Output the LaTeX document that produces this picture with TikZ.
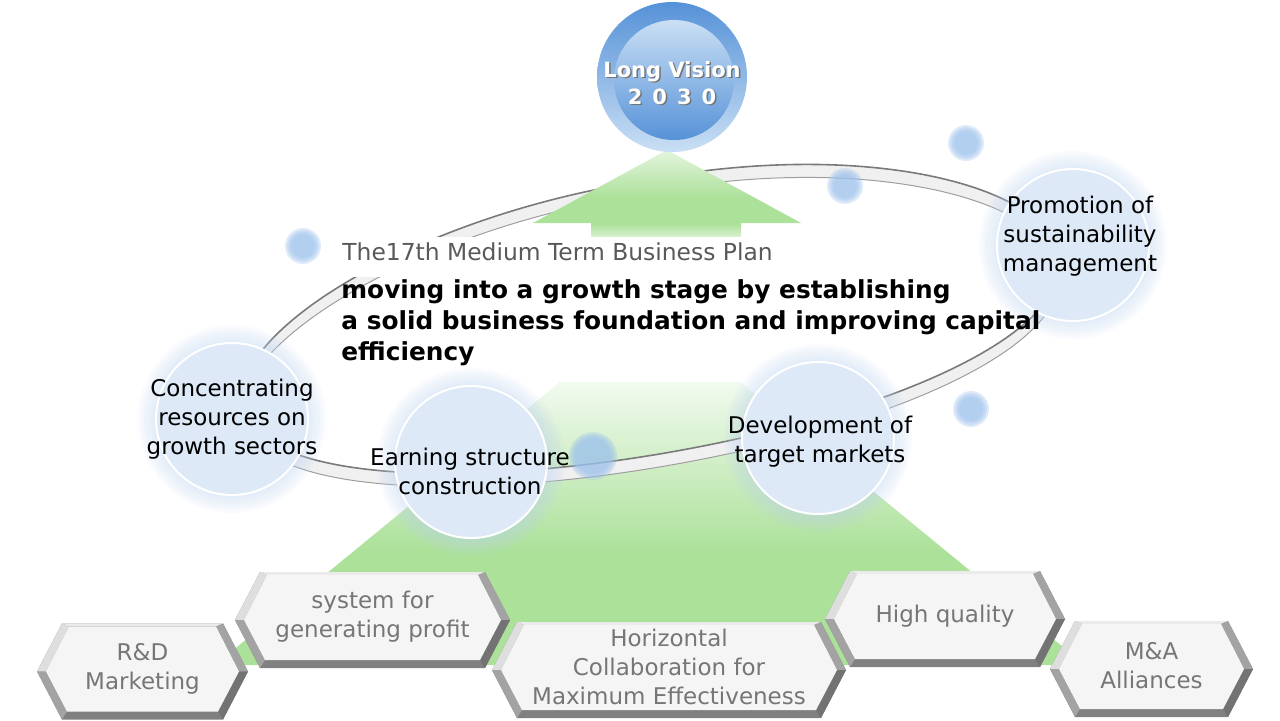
\documentclass[tikz,border=0pt]{standalone}
\usepackage{fontspec}
\setmainfont{DejaVu Sans}
\definecolor{leaf}{RGB}{172,225,154}
\definecolor{leafpale}{RGB}{228,245,222}
\definecolor{discfill}{RGB}{221,233,246}
\definecolor{halocol}{RGB}{190,212,240}
\definecolor{dotblue}{RGB}{158,194,236}
\definecolor{visblue}{RGB}{86,146,216}
\definecolor{vispale}{RGB}{202,223,244}
\definecolor{plangray}{RGB}{89,89,89}
\definecolor{hexgray}{RGB}{118,118,118}
\pgfdeclareverticalshading{toparrow}{100bp}{color(0bp)=(white); color(25bp)=(leafpale!40!white); color(36bp)=(leaf); color(50bp)=(leaf); color(75bp)=(leafpale); color(100bp)=(leafpale)}
\pgfdeclareverticalshading{bigarrow}{100bp}{color(0bp)=(leaf); color(45bp)=(leaf); color(75bp)=(leafpale!50!white); color(100bp)=(white)}
\def\ringup{plot[domain=0:360,samples=120,smooth,variable=\t] ({648+405.7*cos(\t)*(1-0.12*sin(\t))-23.6*sin(\t)},{318-71.5*cos(\t)*(1-0.12*sin(\t))-133.9*sin(\t)-6*(1+sin(\t))*max(cos(\t),0)}) -- cycle}
\def\ringlow{plot[domain=0:360,samples=120,smooth,variable=\t] ({648+405.7*cos(\t)*(1-0.12*sin(\t))-23.6*sin(\t)},{331-71.5*cos(\t)*(1-0.12*sin(\t))-133.9*sin(\t)-6*(1+sin(\t))*max(cos(\t),0)}) -- cycle}
\newcommand\hexa[5]{%
  \begin{scope}[shift={(#2,#3)}]
    \fill[black!50] (-#4,0) -- (-#4+25,-48) -- (#4-25,-48) -- (#4,0) -- (#4-25,48) -- (-#4+25,48) -- cycle;
    \fill[black!8] (-#4+25,-48) -- (#4-25,-48) -- (#4-32,-45) -- (-#4+32,-45) -- cycle;
    \fill[black!13] (-#4,0) -- (-#4+25,-48) -- (-#4+32,-45) -- (-#4+9,0) -- cycle;
    \fill[black!36] (-#4,0) -- (-#4+25,48) -- (-#4+30,40) -- (-#4+9,0) -- cycle;
    \fill[black!36] (#4,0) -- (#4-25,-48) -- (#4-32,-45) -- (#4-9,0) -- cycle;
    \fill[black!55] (#4,0) -- (#4-25,48) -- (#4-30,40) -- (#4-9,0) -- cycle;
    \fill[black!4] (-#4+9,0) -- (-#4+32,-45) -- (#4-32,-45) -- (#4-9,0) -- (#4-30,40) -- (-#4+30,40) -- cycle;
    \node[hexlabel] (#1) at (0,-3) {#5};
  \end{scope}}

\begin{document}
\begin{tikzpicture}[x=0.5pt,y=-0.5pt,
  disc/.style={circle,fill=discfill,draw=white,line width=1pt,minimum size=76pt,inner sep=0pt},
  halo/.style={fill=halocol,opacity=.09},
  disctext/.style={font=\fontsize{11.5}{14.5}\selectfont,align=center,inner sep=0pt},
  hexlabel/.style={text=hexgray,font=\fontsize{11.5}{14.5}\selectfont,align=center,inner sep=0pt}]
  \useasboundingbox (0,0) rectangle (1280,720);
  \shade[shading=bigarrow] (560,382) -- (740,382) -- (1085,665) -- (215,665) -- cycle;
  \fill[black!6,even odd rule] \ringup \ringlow;
  \draw[black!52,line width=.8pt] \ringup;
  \draw[black!38,line width=.5pt] \ringlow;
  \shade[shading=toparrow] (667,150) -- (801,223) -- (741,223) -- (741,245) -- (591,245) -- (591,223) -- (533,223) -- cycle;
  \node[anchor=north west,fill=white,text=plangray,font=\fontsize{11.7}{14}\selectfont,text height=8.5pt,text depth=5.1pt,inner xsep=2pt,inner ysep=3.2pt] (plan) at (338,237) {The17th Medium Term Business Plan};
  \foreach \x/\y/\n in {232/419/conc,471/462/earn,818/438/dev,1073/245/promo}{
    \foreach \d in {3,6,...,18} \fill[halo] (\x,\y) circle (76+\d);
    \node[disc] (\n) at (\x,\y) {};
  }
  \foreach \x/\y/\r in {303/246/15,966/143/15,845/186/15,971/409/15,593/456/21}{
    \foreach \k in {0,1,2,3} \fill[dotblue,opacity=.32] (\x,\y) circle (\r+3-2*\k);
  }
  \node[disctext] (conc-t) at (232,419) {Concentrating\\resources on\\growth sectors};
  \node[disctext] (earn-t) at (470,471) {Earning structure\\construction};
  \node[disctext] (dev-t) at (820,442) {Development of\\target markets};
  \node[disctext] (promo-t) at (1080,236) {Promotion of\\sustainability\\management};
  \node[anchor=north west,inner sep=0pt,align=left,font=\bfseries\fontsize{12.4}{15.5}\selectfont] (goal) at (341,279) {moving into a growth stage by establishing\\a solid business foundation and improving capital\\efficiency};
  \hexa{rd}{142.5}{671.5}{105.5}{R\&D\\Marketing}
  \hexa{sys}{372.5}{620}{137.5}{system for\\generating profit}
  \hexa{ma}{1151.5}{669}{101.5}{M\&A\\Alliances}
  \hexa{hq}{945}{619}{120}{High quality}
  \hexa{hc}{669}{670}{177}{Horizontal\\Collaboration for\\Maximum Effectiveness}
  \shade[top color=visblue,bottom color=vispale] (672,77) circle (75);
  \shade[top color=vispale,middle color=vispale!75!visblue,bottom color=visblue] (674,80) circle (60);
  \node[text=black!55,font=\bfseries\fontsize{10.5}{13.5}\selectfont,align=center] (vision-s) at (673.5,84.5) {Long Vision\\2\hspace{5pt}0\hspace{5pt}3\hspace{5pt}0};
  \node[text=white,font=\bfseries\fontsize{10.5}{13.5}\selectfont,align=center] (vision) at (672,83) {Long Vision\\2\hspace{5pt}0\hspace{5pt}3\hspace{5pt}0};
\end{tikzpicture}
\end{document}
